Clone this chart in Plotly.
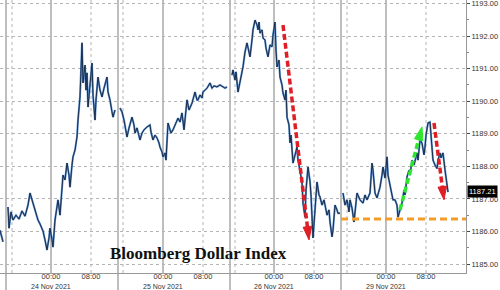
import plotly.graph_objects as go

# ---- data: compressed trading-hours axis (t) and index level (v) per session ----
s1_t = [0.0, 0.6]
s1_v = [1186.04, 1185.68]

s2_t = [1.6, 1.8, 2.2, 2.6, 3.2, 3.8, 4.4, 5.0, 5.6, 6.0, 6.6, 7.2, 7.6, 8.0, 8.6,
        9.0, 9.4, 9.8, 10.0, 10.4, 10.6, 11.0, 11.4, 11.6, 12.0, 12.4, 12.6, 13.0, 13.4, 13.8,
        14.0, 14.4, 14.6, 15.0, 15.4, 15.6, 16.0, 16.2, 16.4, 16.6, 17.0, 17.2, 17.4, 17.6, 18.0,
        18.4, 18.6, 19.0, 19.2, 19.6, 20.0, 20.4, 20.8, 21.4, 21.6, 22.0, 22.4, 22.6, 23.0]
s2_v = [1186.75, 1186.10, 1186.60, 1186.35, 1186.50, 1186.38, 1186.63, 1186.47, 1186.81, 1187.18,
        1186.87, 1186.54, 1186.35, 1186.23, 1186.01, 1185.74, 1185.43, 1185.80, 1186.10, 1185.74,
        1185.52, 1186.35, 1186.81, 1186.97, 1186.50, 1187.36, 1187.73, 1187.58, 1188.10, 1187.73,
        1187.36, 1188.04, 1188.29, 1188.50, 1188.90, 1189.42, 1190.13, 1190.96, 1191.79, 1190.56,
        1191.11, 1190.34, 1190.87, 1189.82, 1190.50, 1191.17, 1190.19, 1189.42, 1190.04, 1190.74,
        1190.34, 1190.13, 1190.40, 1190.74, 1190.28, 1190.04, 1189.67, 1189.51, 1189.73]

s3_t = [24.0, 24.4, 24.8, 25.2, 25.4, 25.8, 26.4, 26.8, 27.0, 27.4, 28.0, 28.4, 28.8, 29.4, 30.0,
        30.2, 30.6, 31.0, 31.4, 31.8, 32.0, 32.4, 32.6, 33.0, 33.2, 33.6, 34.0, 34.2, 34.6, 35.0,
        35.2, 35.6, 36.0, 36.4, 36.8, 37.2, 37.4, 37.8, 38.0, 38.4, 39.0, 39.4, 39.6, 40.0, 40.4,
        40.6, 41.0, 41.4, 42.0, 42.4, 42.8, 43.4, 44.0, 44.6, 45.0, 45.4]
s3_v = [1189.79, 1189.67, 1189.42, 1189.12, 1188.90, 1189.18, 1189.51, 1189.27, 1189.02, 1189.18,
        1188.81, 1189.02, 1189.12, 1189.21, 1189.27, 1189.05, 1188.81, 1188.96, 1188.87, 1188.72,
        1188.59, 1188.44, 1188.29, 1188.41, 1188.19, 1189.33, 1189.12, 1189.02, 1189.12, 1189.27,
        1189.36, 1189.48, 1189.36, 1189.64, 1189.12, 1189.73, 1190.04, 1189.73, 1189.79, 1189.94,
        1190.28, 1190.04, 1190.04, 1190.19, 1190.10, 1190.28, 1190.34, 1190.40, 1190.56, 1190.40,
        1190.47, 1190.44, 1190.50, 1190.44, 1190.40, 1190.44]

s4_t = [46.4, 46.6, 47.0, 47.2, 47.6, 48.0, 48.4, 48.6, 49.0, 49.4, 49.8, 50.0, 50.4, 50.6, 51.0,
        51.4, 51.6, 51.8, 52.0, 52.4, 52.6, 53.0, 53.2, 53.6, 54.0, 54.4, 54.6, 55.0, 55.2, 55.4,
        55.8, 56.0, 56.4, 56.6, 57.0, 57.2, 57.4, 57.8, 58.0, 58.2, 58.6, 59.0, 59.4, 59.6, 60.0,
        60.4, 60.6, 61.0, 61.2, 61.6, 62.0, 62.2, 62.6, 62.8, 63.4, 63.8, 64.0, 64.4, 64.8, 65.4,
        65.8, 66.0, 66.4, 66.6, 67.0, 67.4, 67.6, 68.0]
s4_v = [1190.80, 1190.96, 1190.65, 1190.90, 1190.28, 1190.65, 1190.90, 1191.05, 1191.51, 1191.79,
        1191.42, 1191.36, 1191.88, 1192.19, 1192.49, 1192.34, 1192.19, 1192.43, 1192.09, 1192.19,
        1191.94, 1191.88, 1191.63, 1191.36, 1191.73, 1191.67, 1192.03, 1192.43, 1191.57, 1191.05,
        1191.26, 1190.74, 1190.50, 1190.25, 1190.04, 1190.34, 1189.51, 1189.27, 1188.72, 1188.96,
        1188.10, 1188.35, 1188.59, 1188.19, 1187.79, 1187.53, 1186.87, 1186.44, 1187.27, 1187.98,
        1187.53, 1187.12, 1185.80, 1186.20, 1187.52, 1187.12, 1187.06, 1186.81, 1186.97, 1186.50,
        1186.66, 1186.29, 1185.83, 1186.04, 1186.81, 1186.66, 1186.56, 1186.56]

s5_t = [68.6, 69.0, 69.4, 69.8, 70.0, 70.4, 70.8, 71.4, 72.0, 72.6, 73.0, 73.4, 74.0, 74.4, 74.6,
        75.0, 75.4, 76.0, 76.4, 76.6, 77.0, 77.4, 77.6, 78.0, 78.4, 78.6, 79.0, 79.4, 79.6, 80.0,
        80.4, 80.8, 81.0, 81.4, 81.8, 82.0, 82.4, 82.8, 83.4, 83.6, 84.0, 84.4, 84.8, 85.0, 85.2,
        85.6, 86.0, 86.2, 86.4, 86.6, 87.0, 87.4, 87.6, 88.0, 88.2, 88.6, 89.0, 89.4, 89.6]
s5_v = [1187.18, 1186.81, 1186.97, 1186.60, 1186.97, 1186.72, 1186.29, 1187.18, 1186.97, 1186.87,
        1187.12, 1186.97, 1187.18, 1188.10, 1187.88, 1187.18, 1187.03, 1187.36, 1187.73, 1187.98,
        1187.64, 1188.29, 1187.73, 1187.36, 1187.12, 1186.97, 1186.97, 1186.81, 1186.44, 1186.66,
        1186.87, 1187.27, 1187.12, 1187.67, 1187.88, 1187.73, 1188.19, 1188.04, 1188.41, 1188.19,
        1188.81, 1188.71, 1188.35, 1188.59, 1188.96, 1189.33, 1189.36, 1188.96, 1188.50, 1188.19,
        1188.04, 1187.93, 1188.19, 1188.41, 1188.26, 1188.41, 1187.89, 1187.36, 1187.21]

last_value = 1187.21

# axis furniture (positions on the compressed hour axis)
session_breaks = [1.2, 23.6, 46.0, 68.2]
midnights = [10.2, 32.6, 54.8, 77.2]
mornings = [18.2, 40.6, 62.8, 85.2]
afternoons = [2.4, 24.6, 47.0, 69.4]
day_labels = ["24 Nov 2021", "25 Nov 2021", "26 Nov 2021", "29 Nov 2021"]
y_ticks = [1185, 1186, 1187, 1188, 1189, 1190, 1191, 1192, 1193]

# annotations drawn on the chart
red1_t, red1_v = [56.6, 61.8], [1192.34, 1185.74]
green_t, green_v = [80.0, 84.4], [1186.66, 1189.21]
red2_t, red2_v = [86.8, 88.8], [1189.33, 1186.97]
support_t, support_v = [68.2, 93.6], [1186.38, 1186.38]

X_RANGE = [0, 93.2]
Y_RANGE = [1184.724, 1193.107]

# ---- build ----
t_all, v_all = [], []
for tt, vv in [(s1_t, s1_v), (s2_t, s2_v), (s3_t, s3_v), (s4_t, s4_v), (s5_t, s5_v)]:
    assert len(tt) == len(vv)
    if t_all:
        t_all.append(None)
        v_all.append(None)
    t_all += tt
    v_all += vv

fig = go.Figure()

fig.add_trace(go.Scatter(x=t_all, y=v_all, mode="lines", connectgaps=False,
                         line=dict(color="#5a8fd0", width=2.0), hoverinfo="skip"))
fig.add_trace(go.Scatter(x=t_all, y=v_all, mode="lines", connectgaps=False,
                         line=dict(color="#14223a", width=0.9), hoverinfo="skip"))

# support line
fig.add_trace(go.Scatter(x=support_t, y=support_v, mode="lines", cliponaxis=False,
                         line=dict(color="#f39c2a", width=3, dash="7px,4px"), hoverinfo="skip"))

def arrow(tt, vv, color):
    fig.add_trace(go.Scatter(
        x=tt, y=vv, mode="lines+markers", cliponaxis=False,
        line=dict(color=color, width=3.5, dash="6px,3px"),
        marker=dict(symbol="arrow", size=[0, 14], color=color, angleref="previous",
                    opacity=1, line=dict(width=1, color=color)),
        hoverinfo="skip"))

arrow(red1_t, red1_v, "#e01e26")
arrow(green_t, green_v, "#2ee62e")
arrow(red2_t, red2_v, "#e01e26")

shapes = []
grid_dot = dict(color="#b4b4b4", width=1, dash="dot")
for p in session_breaks:
    shapes.append(dict(type="line", xref="x", yref="paper", x0=p, x1=p, y0=-0.07, y1=1,
                       line=dict(color="#a8a8a8", width=1.5), layer="below"))
for p in midnights:
    shapes.append(dict(type="line", xref="x", yref="paper", x0=p, x1=p, y0=0, y1=1,
                       line=dict(color="#a8a8a8", width=1.5), layer="below"))
for p in mornings + afternoons:
    shapes.append(dict(type="line", xref="x", yref="paper", x0=p, x1=p, y0=0, y1=1,
                       line=grid_dot, layer="below"))

tickvals, ticktext = [], []
for m, mo in zip(midnights, mornings):
    tickvals += [m, mo]
    ticktext += ["00:00", "08:00"]

annotations = [
    dict(text="<b>Bloomberg Dollar Index</b>", xref="paper", yref="paper",
         x=0.426, y=0.07, xanchor="center", yanchor="middle", showarrow=False,
         font=dict(family="Liberation Serif, Times New Roman, serif", size=17, color="#111111")),
    dict(text="%.2f" % last_value, xref="x domain", yref="y", x=1, y=last_value,
         xanchor="left", yanchor="middle", xshift=1, yshift=1, showarrow=False,
         bgcolor="#000000", font=dict(size=7.5, color="white"), borderpad=1),
]
for m, d in zip(midnights, day_labels):
    annotations.append(dict(text=d, xref="x", yref="paper", x=m, y=0, yshift=-13,
                            xanchor="center", yanchor="middle", showarrow=False,
                            font=dict(size=7, color="#333333")))

fig.update_layout(
    width=500, height=290,
    margin=dict(l=0, r=34, t=0, b=17, autoexpand=False),
    paper_bgcolor="white", plot_bgcolor="white",
    showlegend=False,
    shapes=shapes,
    font=dict(family="Liberation Sans, Arial, sans-serif", color="#333333"),
    xaxis=dict(range=X_RANGE, showgrid=False, zeroline=False, automargin=False,
               tickvals=tickvals, ticktext=ticktext, ticks="", ticklabelstandoff=-4,
               tickfont=dict(size=7.5, color="#333333"),
               showline=True, linecolor="#999999", linewidth=1),
    yaxis=dict(range=Y_RANGE, side="right", tickvals=y_ticks, tickformat=".2f", automargin=False,
               ticklabeloverflow="allow",
               showgrid=True, gridcolor="#b4b4b4", griddash="dot", gridwidth=1,
               zeroline=False, ticks="outside", ticklen=3, tickcolor="#444444",
               minor=dict(dtick=0.5, ticks="outside", ticklen=2, tickcolor="#888888", showgrid=False),
               tickfont=dict(size=7.5, color="#333333"),
               showline=True, linecolor="#999999", linewidth=1),
    annotations=annotations,
)

fig.write_html("out.html")
